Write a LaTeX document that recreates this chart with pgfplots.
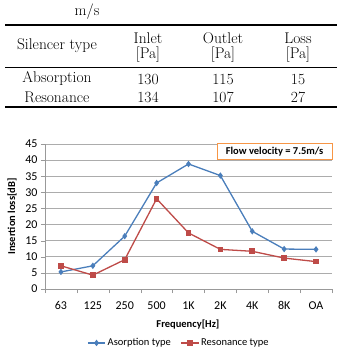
\documentclass[border=0pt]{standalone}
\usepackage{pgfplots}
\pgfplotsset{compat=1.18}
\usepackage{fontspec}
\newfontfamily\carl{Carlito}
\definecolor{xblue}{HTML}{4A7EBB}
\definecolor{xred}{HTML}{BE4B48}
\definecolor{xorange}{HTML}{F79646}
\begin{document}
\begin{tikzpicture}
\useasboundingbox (0pt,0pt) rectangle (337pt,-351pt);
\begin{scope}[font=\fontsize{15.5}{18}\selectfont]
\node at (87pt,-12pt) {m/s};
\draw[line width=1.6pt] (5pt,-25pt) -- (337pt,-25pt);
\node at (57pt,-46pt) {Silencer type};
\node at (148pt,-38pt) {Inlet};
\node at (148pt,-55pt) {[Pa]};
\node at (223pt,-38pt) {Outlet};
\node at (223pt,-55pt) {[Pa]};
\node at (298pt,-38pt) {Loss};
\node at (298pt,-55pt) {[Pa]};
\draw[line width=0.8pt] (5pt,-67pt) -- (337pt,-67pt);
\node at (57pt,-79pt) {Absorption};
\node at (148pt,-79pt) {130};
\node at (223pt,-79pt) {115};
\node at (298pt,-79pt) {15};
\node at (57pt,-97pt) {Resonance};
\node at (148pt,-97pt) {134};
\node at (223pt,-97pt) {107};
\node at (298pt,-97pt) {27};
\draw[line width=1.4pt] (5pt,-107pt) -- (337pt,-107pt);
\end{scope}
\begin{axis}[
  at={(45pt,-289pt)}, anchor=south west,
  scale only axis, width=287pt, height=145pt,
  xmin=-0.5, xmax=8.5, ymin=0, ymax=45,
  axis x line=bottom, axis y line=left,
  axis line style={draw=gray!80, -},
  xtick={-0.5,0.5,...,8.5}, xticklabels={},
  extra x ticks={0,...,8},
  extra x tick labels={63,125,250,500,1K,2K,4K,8K,OA},
  extra x tick style={major tick length=0pt, grid=none},
  ytick={0,5,...,45},
  ymajorgrids, xmajorgrids=false,
  grid style={gray!65, line width=0.7pt},
  tick style={gray!80},
  tick align=outside, major tick length=4pt,
  /pgf/number format/assume math mode=true,
  tick label style={font=\carl\fontsize{12}{14}\selectfont},
  x tick label style={yshift=-9pt},
  xlabel={Frequency[Hz]},
  ylabel={Insertion loss[dB]},
  label style={font=\carl\bfseries\fontsize{10.5}{12}\selectfont},
  xlabel style={at={(axis description cs:0.498,-0.248)}, anchor=center},
  ylabel style={at={(axis description cs:-0.115,0.5)}, anchor=center},
  legend style={font=\carl\fontsize{10.5}{12}\selectfont, draw=none,
    at={(0.467,-0.372)}, anchor=center, legend columns=2,
    /tikz/every even column/.append style={column sep=8pt}},
  clip=false,
]
\addplot[xblue, line width=1.3pt, mark=diamond*, mark size=2.2pt]
  coordinates {(0,5.3)(1,7.2)(2,16.4)(3,32.9)(4,38.8)(5,35.2)(6,17.9)(7,12.4)(8,12.3)};
\addlegendentry{Asorption type}
\addplot[xred, line width=1.3pt, mark=square*, mark size=2.2pt]
  coordinates {(0,7.2)(1,4.3)(2,9.1)(3,28.0)(4,17.4)(5,12.3)(6,11.7)(7,9.6)(8,8.5)};
\addlegendentry{Resonance type}
\node[draw=xorange, line width=1pt, fill=white, font=\carl\bfseries\fontsize{10.5}{12}\selectfont,
  inner sep=2pt, minimum width=115pt, minimum height=16pt] at (rel axis cs:0.8,0.945) {Flow velocity = 7.5m/s};
\end{axis}
\end{tikzpicture}
\end{document}
